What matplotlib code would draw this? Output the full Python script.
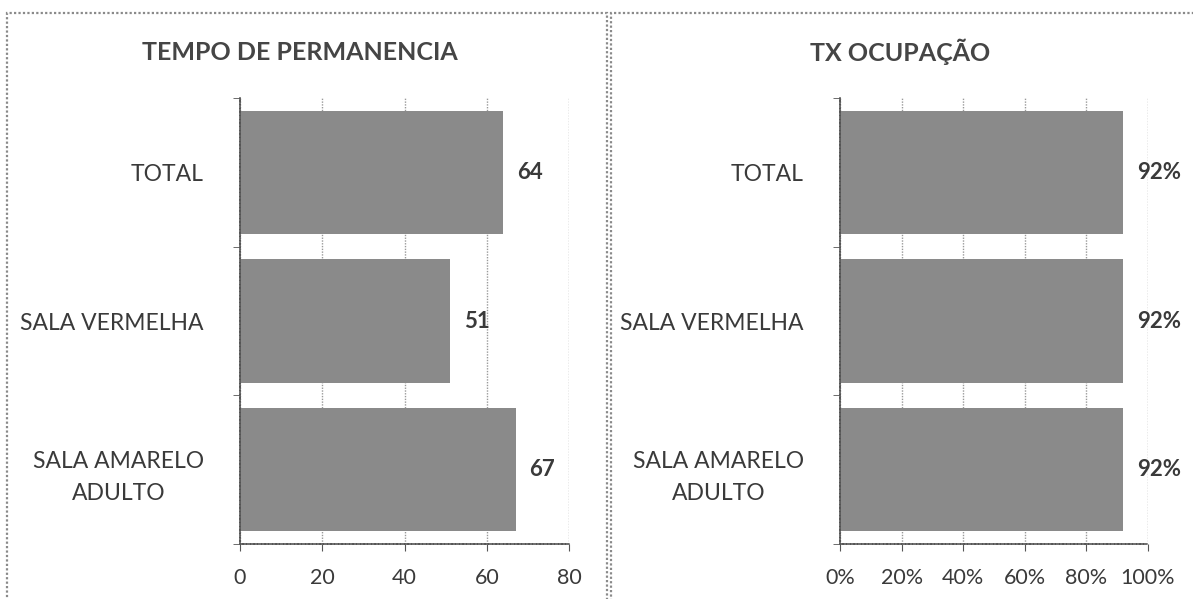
import matplotlib
matplotlib.use("Agg")
import matplotlib.pyplot as plt
from matplotlib.patches import Rectangle
from matplotlib.ticker import FuncFormatter

plt.rcParams['font.family'] = ['Lato', 'DejaVu Sans']

categories = ["TOTAL", "SALA VERMELHA", "SALA AMARELO\nADULTO"]
tempo_values = [64, 51, 67]
ocup_values = [0.92, 0.92, 0.92]
tempo_ticks = [0, 20, 40, 60, 80]
ocup_ticks = [0, 0.2, 0.4, 0.6, 0.8, 1.0]

W, H = 1193, 599
fig = plt.figure(figsize=(W / 100, H / 100), dpi=100)
fig.patch.set_facecolor("white")

TXT = "#3a3a3a"
BAR = "#8a8a8a"

# panel borders
for (x0, x1) in [(7, 607), (611, 1200)]:
    fig.add_artist(Rectangle((x0 / W, -0.05), (x1 - x0) / W, 1 - 12.5 / H + 0.05,
                             transform=fig.transFigure, fill=False,
                             edgecolor="#8a8a8a", linewidth=1.6, linestyle=(0, (1, 1))))

def make_panel(rect, values, ticks, title, title_x, fmt, vfmt):
    ax = fig.add_axes(rect)
    y = list(range(len(categories)))
    ax.barh(y, values, height=0.83, color=BAR, edgecolor="none", zorder=2)
    ax.set_ylim(len(categories) - 0.5, -0.5)
    ax.set_xlim(ticks[0], ticks[-1])
    ax.set_xticks(ticks)
    ax.xaxis.set_major_formatter(FuncFormatter(fmt))
    ax.set_yticks(y)
    ax.set_yticklabels(categories, fontsize=16.5, color=TXT, linespacing=1.65)
    for lbl in ax.get_yticklabels():
        lbl.set_multialignment("center")
    ax.set_yticks([i - 0.5 for i in range(len(categories) + 1)], minor=True)
    ax.tick_params(axis="y", which="major", length=0, pad=26)
    ax.tick_params(axis="y", which="minor", length=5, color="#555555", direction="out")
    ax.tick_params(axis="x", which="major", length=5, color="#555555", direction="out",
                   labelsize=15.5, labelcolor=TXT, pad=12)
    ax.grid(axis="x", color="#9a9a9a", linestyle=(0, (1, 1)), linewidth=1, zorder=0)
    for s in ["top", "right"]:
        ax.spines[s].set_visible(False)
    for s in ["left", "bottom"]:
        ax.spines[s].set_color("#555555")
        ax.spines[s].set_linewidth(1.2)
        ax.spines[s].set_linestyle((0, (1.5, 0.7)))
    for yi, v in zip(y, values):
        ax.annotate(vfmt(v), (v, yi), xytext=(10, 0), textcoords="offset points",
                    ha="left", va="center", fontsize=16, fontweight="bold", color=TXT)
    fig.text(title_x / W, 1 - 52 / H, title, ha="center", va="center",
             fontsize=18, fontweight="bold", color="#454545")
    return ax

ax1 = make_panel([240 / W, 1 - 544 / H, (569 - 240) / W, (544 - 98) / H],
                 tempo_values, tempo_ticks, "TEMPO DE PERMANENCIA", 300,
                 lambda v, p: f"{v:.0f}", lambda v: f"{v:.0f}")
ax2 = make_panel([840 / W, 1 - 544 / H, (1148 - 840) / W, (544 - 98) / H],
                 ocup_values, ocup_ticks, "TX OCUPAÇÃO", 900,
                 lambda v, p: f"{v * 100:.0f}%", lambda v: f"{v * 100:.0f}%")

fig.savefig("out.png", dpi=100, facecolor="white")
